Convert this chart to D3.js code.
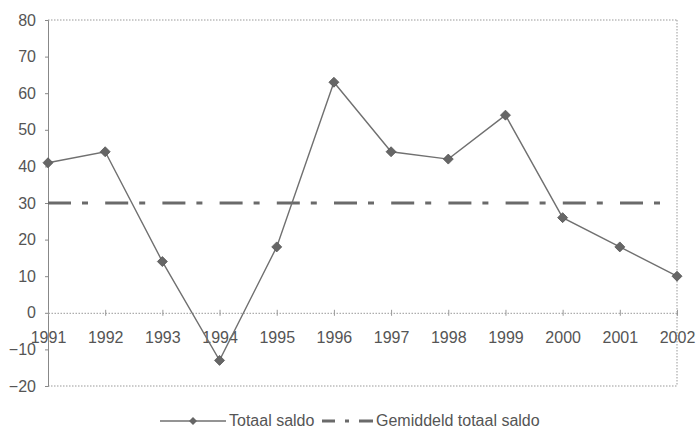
<!DOCTYPE html>
<html><head><meta charset="utf-8">
<script src="https://cdn.jsdelivr.net/npm/d3@7"></script>
<style>body{margin:0;background:#fff}svg{display:block}text{font-family:"Liberation Sans",Arial,sans-serif;fill:#555}</style>
</head><body>
<svg id="c" width="697" height="440"></svg>
<script>
const years = ["1991","1992","1993","1994","1995","1996","1997","1998","1999","2000","2001","2002"];
const totaal = [41,44,14,-13,18,63,44,42,54,26,18,10];
const gemiddeld = [30,30,30,30,30,30,30,30,30,30,30,30];
const yTicks = [-20,-10,0,10,20,30,40,50,60,70,80];
const legendLabels = ["Totaal saldo","Gemiddeld totaal saldo"];

const svg = d3.select("#c");
const L=48,R=677,T=20,B=386;
const x = d3.scalePoint().domain(years).range([L,R]);
const y = d3.scaleLinear().domain([-20,80]).range([B,T]);
const diamond = "M0,-5L5,0L0,5L-5,0Z";

// frame
svg.append("line").attr("x1",L).attr("x2",R).attr("y1",T).attr("y2",T).attr("stroke","#999").attr("stroke-dasharray","1.5,1.5");
svg.append("line").attr("x1",R).attr("x2",R).attr("y1",T).attr("y2",B).attr("stroke","#999").attr("stroke-dasharray","1.5,1.5");
svg.append("line").attr("x1",L).attr("x2",R).attr("y1",B).attr("y2",B).attr("stroke","#999").attr("stroke-dasharray","1.5,1.5");

// y axis
const ya = svg.append("g").attr("transform",`translate(${L},0)`).call(d3.axisLeft(y).tickValues(yTicks).tickSize(3).tickPadding(9));
ya.select(".domain").attr("stroke","#888");
ya.selectAll(".tick line").attr("stroke","#888");
ya.selectAll("text").style("font-size","16px").attr("fill","#555");

// x axis at zero
const xa = svg.append("g").attr("transform",`translate(0,${y(0)})`).call(d3.axisBottom(x).tickSize(0).tickPadding(0));
xa.select(".domain").attr("stroke","#999").attr("stroke-dasharray","1.5,1.5");
xa.selectAll(".tick text").attr("dy","1.9em").style("font-size","16px").attr("fill","#555");
xa.selectAll(".tick").append("line").attr("y1",-3).attr("y2",3).attr("stroke","#999");

// average line
svg.append("path").datum(gemiddeld)
  .attr("d",d3.line().x((d,i)=>x(years[i])).y(d=>y(d)))
  .attr("fill","none").attr("stroke","#6a6a6a").attr("stroke-width",3)
  .attr("stroke-dasharray","23,11,6,17.2");

// totaal line
svg.append("path").datum(totaal)
  .attr("d",d3.line().x((d,i)=>x(years[i])).y(d=>y(d)))
  .attr("fill","none").attr("stroke","#707070").attr("stroke-width",1.4);
svg.selectAll(".m").data(totaal).enter().append("path")
  .attr("transform",(d,i)=>`translate(${x(years[i])},${y(d)})`)
  .attr("d",diamond)
  .attr("fill","#666").attr("stroke","#555").attr("stroke-width",0.8);

// legend
const ly=421;
const lg = svg.append("g");
lg.append("line").attr("x1",160).attr("x2",226).attr("y1",ly).attr("y2",ly).attr("stroke","#707070").attr("stroke-width",1.4);
lg.append("path").attr("transform",`translate(193,${ly}) scale(0.8)`).attr("d",diamond).attr("fill","#666");
lg.append("text").attr("x",229).attr("y",ly+5).style("font-size","16px").text(legendLabels[0]);
lg.append("line").attr("x1",322).attr("x2",373).attr("y1",ly).attr("y2",ly).attr("stroke","#6a6a6a").attr("stroke-width",3).attr("stroke-dasharray","13,10,4,10,14");
lg.append("text").attr("x",376).attr("y",ly+5).style("font-size","16px").text(legendLabels[1]);
</script>
</body></html>
